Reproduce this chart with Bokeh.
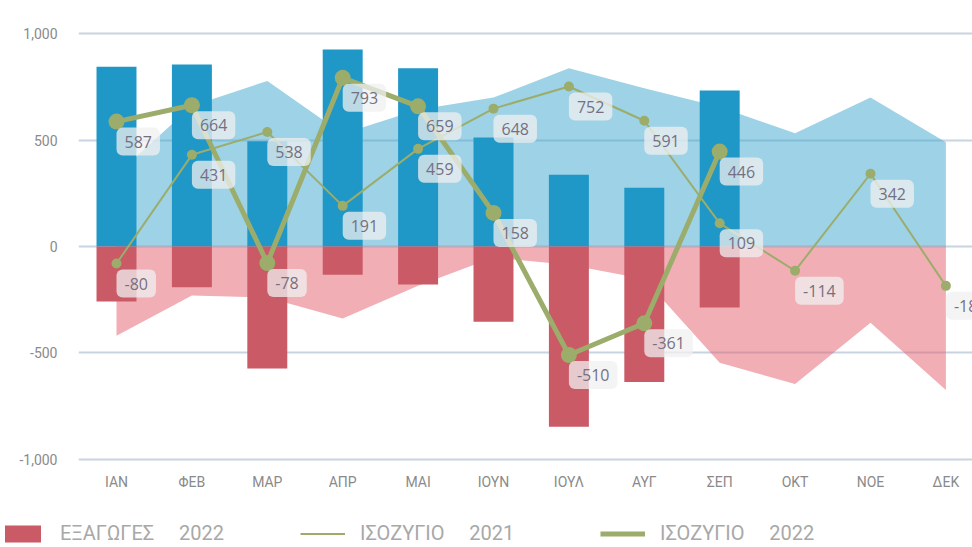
from bokeh.plotting import figure
from bokeh.layouts import column, row
from bokeh.models import (ColumnDataSource, Range1d, FixedTicker, NumeralTickFormatter,
                          Legend, LegendItem)
from bokeh.core.properties import value
from bokeh.embed import file_html
from bokeh.resources import INLINE

months = ["ΙΑΝ", "ΦΕΒ", "ΜΑΡ", "ΑΠΡ", "ΜΑΙ", "ΙΟΥΝ", "ΙΟΥΛ", "ΑΥΓ", "ΣΕΠ", "ΟΚΤ", "ΝΟΕ", "ΔΕΚ"]
imports_2022 = [845, 855, 495, 926, 838, 512, 337, 276, 733]
exports_2022 = [-258, -191, -573, -133, -179, -354, -847, -637, -287]
balance_2022 = [587, 664, -78, 793, 659, 158, -510, -361, 446]
imports_2021 = [339, 661, 778, 530, 643, 700, 838, 744, 656, 532, 700, 490]
exports_2021 = [-419, -230, -240, -339, -184, -52, -86, -153, -547, -646, -358, -675]
balance_2021 = [-80, 431, 538, 191, 459, 648, 752, 591, 109, -114, 342, -185]
y_ticks = [-1000, -500, 0, 500, 1000]
legend_labels = ["ΕΞΑΓΩΓΕΣ 2022", "ΙΣΟΖΥΓΙΟ 2021", "ΙΣΟΖΥΓΙΟ 2022"]

RED = "#c95a66"
BLUE = "#1f97c7"
GREEN = "#9cac6b"

x21 = list(range(len(months)))
x22 = list(range(len(balance_2022)))

s21 = ColumnDataSource(dict(x=x21, imp=imports_2021, exp=exports_2021, bal=balance_2021,
                            lab=[str(v) for v in balance_2021]))
s22 = ColumnDataSource(dict(x=x22, imp=imports_2022, exp=exports_2022, bal=balance_2022,
                            lab=[str(v) for v in balance_2022]))

fig = figure(width=972, height=500, output_backend="svg", toolbar_location=None,
             x_range=Range1d(-0.504, 11.353), y_range=Range1d(-1020, 1020),
             min_border_left=78, min_border_right=0, min_border_top=29, min_border_bottom=37)
fig.outline_line_color = None

# grid / axes
fig.xgrid.grid_line_color = None
fig.ygrid.grid_line_color = "#c9d4e2"
fig.ygrid.grid_line_width = 2
fig.yaxis.ticker = FixedTicker(ticks=y_ticks)
fig.yaxis.formatter = NumeralTickFormatter(format="0,0")
fig.xaxis.ticker = FixedTicker(ticks=x21)
fig.xaxis.major_label_overrides = {i: m for i, m in enumerate(months)}
for ax in (fig.xaxis, fig.yaxis):
    ax.axis_line_color = None
    ax.major_tick_line_color = None
    ax.minor_tick_line_color = None
    ax.major_label_text_font = "Roboto"
    ax.major_label_text_font_size = "14px"
    ax.major_label_text_color = "#8a8a8a"
fig.yaxis.major_label_standoff = 15
fig.xaxis.major_label_standoff = 4

# 2021 areas
fig.varea(x="x", y1=0, y2="imp", source=s21, fill_color="#3ca5cf", fill_alpha=0.5)
fig.varea(x="x", y1=0, y2="exp", source=s21, fill_color="#e35d6b", fill_alpha=0.5)

# 2022 bars
fig.vbar(x="x", bottom=0, top="imp", width=0.53, source=s22, fill_color=BLUE, line_color=None)
fig.vbar(x="x", bottom="exp", top=0, width=0.53, source=s22, fill_color=RED, line_color=None)

# balance lines
fig.line(x="x", y="bal", source=s21, line_color=GREEN, line_width=2)
fig.scatter(x="x", y="bal", source=s21, size=10, fill_color=GREEN, line_color=None)
fig.line(x="x", y="bal", source=s22, line_color=GREEN, line_width=5)
fig.scatter(x="x", y="bal", source=s22, size=16, fill_color=GREEN, line_color=None)

# data labels
for src in (s21, s22):
    fig.text(x="x", y="bal", text="lab", source=src, x_offset=0, y_offset=6,
             anchor="top_left", text_align="left", text_baseline="top",
             text_font=value("Open Sans"), text_font_size="16px", text_color="#747083",
             background_fill_color="#f0f0f0", background_fill_alpha=0.75,
             padding=8, border_radius=6)

# legend strip (separate small figure below the chart; its glyphs lie outside its view)
leg = figure(width=972, height=47, output_backend="svg", toolbar_location=None,
             x_axis_location=None, y_axis_location=None,
             x_range=Range1d(-200, -199), y_range=Range1d(5000, 5001),
             min_border_left=0, min_border_right=0, min_border_top=0, min_border_bottom=0)
leg.grid.visible = False
leg.outline_line_color = None
r_red = leg.vbar(x="x", bottom="exp", top=0, width=0.53, source=s22, fill_color=RED, line_color=None)
r_l21 = leg.line(x="x", y="bal", source=s21, line_color=GREEN, line_width=2)
r_l22 = leg.line(x="x", y="bal", source=s22, line_color=GREEN, line_width=5)

sp = "\u00a0" * 5
labels = [t.replace(" ", sp) for t in legend_labels]
legend = Legend(items=[LegendItem(label=labels[0], renderers=[r_red]),
                       LegendItem(label=labels[1], renderers=[r_l21]),
                       LegendItem(label=labels[2], renderers=[r_l22])],
                orientation="horizontal", location=(0, 2),
                glyph_width=45, glyph_height=21, label_standoff=15, label_width=200,
                spacing=40, padding=0, margin=0, border_line_color=None,
                background_fill_alpha=0, label_text_font="Roboto",
                label_text_font_size="20px", label_text_color="#a8a8a8")
leg.add_layout(legend, "center")

p = column(fig, row(leg, spacing=0), spacing=0)
open("out.html", "w").write(file_html(p, INLINE))
